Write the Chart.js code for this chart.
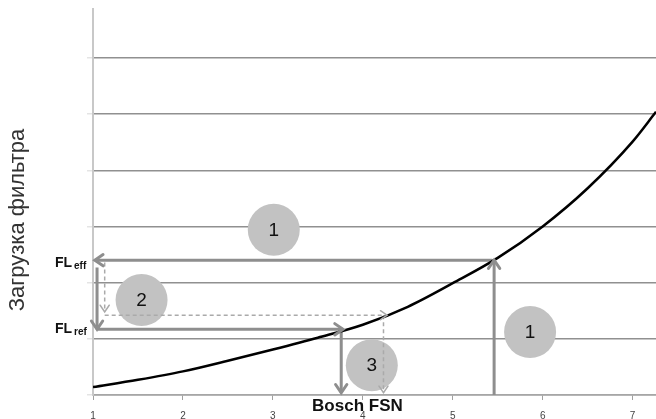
<!DOCTYPE html>
<html lang="ru">
<head>
<meta charset="UTF-8">
<title>Загрузка фильтра</title>
<script src="https://cdn.jsdelivr.net/npm/chart.js"></script>
<style>
    html, body { margin: 0; padding: 0; background: #fff; }
    canvas { display: block; }
</style>
</head>
<body>
<canvas id="chart" width="656" height="419"></canvas>
<script>
// curve (x = Bosch FSN, y = filter load)
const fsnValues  = [1, 1.5, 2, 2.5, 3, 3.5, 4, 4.5, 5, 5.5, 6, 6.5, 7, 7.26];
const loadValues = [0.14, 0.27, 0.42, 0.61, 0.81, 1.02, 1.25, 1.57, 1.99, 2.44, 3.0, 3.68, 4.51, 5.04];

const xTicks = [1, 2, 3, 4, 5, 6, 7];
const yGrid  = [0, 1, 2, 3, 4, 5, 6];

// arrows as [x1, y1, x2, y2], head at the second point
const solidArrows = [
    [5.46, 0, 5.46, 2.40],
    [5.44, 2.40, 1.02, 2.40],
    [1.045, 2.27, 1.045, 1.17],
    [1.055, 1.17, 3.78, 1.17],
    [3.76, 1.17, 3.76, 0.04]
];
const dashedArrows = [
    [1.13, 2.36, 1.13, 1.48],
    [1.13, 1.42, 4.27, 1.42],
    [4.23, 1.42, 4.23, 0.04]
];

// numbered grey circles
const stepLabels = ['1', '2', '3', '1'];
const stepX = [3.01, 1.54, 4.10, 5.86];
const stepY = [2.94, 1.69, 0.53, 1.12];

// FL labels on the left
const flSubs   = ['eff', 'ref'];
const flValues = [2.36, 1.19];

const xAxisName   = 'Bosch FSN';
const xAxisNameAt = 3.94;
const yAxisName   = 'Загрузка фильтра';

const FONT = '"Liberation Sans", Arial, sans-serif';

function toPoints(a) {
    return [{ x: a[0], y: a[1] }, { x: a[2], y: a[3] }];
}

const datasets = [];

datasets.push({
    label: 'curve',
    data: fsnValues.map((x, i) => ({ x: x, y: loadValues[i] })),
    borderColor: '#000',
    borderWidth: 2.5,
    pointRadius: 0,
    tension: 0.4,
    cubicInterpolationMode: 'monotone',
    order: 0
});

solidArrows.forEach(a => {
    datasets.push({
        data: toPoints(a),
        borderColor: '#8e8e8e',
        borderWidth: 3,
        pointRadius: 0,
        arrowHead: true,
        order: 1
    });
});

dashedArrows.forEach(a => {
    datasets.push({
        data: toPoints(a),
        borderColor: '#aaaaaa',
        borderWidth: 1.5,
        borderDash: [4, 3],
        pointRadius: 0,
        arrowHead: true,
        order: 2
    });
});

datasets.push({
    label: 'steps',
    data: stepX.map((x, i) => ({ x: x, y: stepY[i] })),
    showLine: false,
    pointRadius: 26,
    pointHoverRadius: 26,
    pointBackgroundColor: '#c2c2c2',
    pointBorderWidth: 0,
    order: 5
});

// open chevron heads on the arrows, numbers in circles, loose labels
const extrasPlugin = {
    id: 'extras',
    afterDatasetsDraw(chart) {
        const ctx = chart.ctx;
        chart.data.datasets.forEach((ds, i) => {
            const meta = chart.getDatasetMeta(i);
            if (ds.arrowHead) {
                const p0 = meta.data[0], p1 = meta.data[1];
                const ang = Math.atan2(p1.y - p0.y, p1.x - p0.x);
                const len = ds.borderWidth > 2 ? 10 : 8;
                ctx.save();
                ctx.strokeStyle = ds.borderColor;
                ctx.lineWidth = ds.borderWidth;
                ctx.lineCap = 'round';
                ctx.beginPath();
                ctx.moveTo(p1.x - len * Math.cos(ang - 0.6), p1.y - len * Math.sin(ang - 0.6));
                ctx.lineTo(p1.x, p1.y);
                ctx.lineTo(p1.x - len * Math.cos(ang + 0.6), p1.y - len * Math.sin(ang + 0.6));
                ctx.stroke();
                ctx.restore();
            }
            if (ds.label === 'steps') {
                ctx.save();
                ctx.font = '19px ' + FONT;
                ctx.fillStyle = '#111';
                ctx.textAlign = 'center';
                ctx.textBaseline = 'middle';
                meta.data.forEach((p, j) => ctx.fillText(stepLabels[j], p.x, p.y + 1));
                ctx.restore();
            }
        });
    },
    afterDraw(chart) {
        const ctx = chart.ctx;
        const area = chart.chartArea;
        const xs = chart.scales.x, ys = chart.scales.y;
        ctx.save();
        ctx.fillStyle = '#111';
        flSubs.forEach((s, i) => {
            const base = ys.getPixelForValue(flValues[i]) + 5;
            ctx.font = 'bold 14px ' + FONT;
            ctx.textAlign = 'right';
            ctx.fillText('FL', area.left - 21, base);
            ctx.font = 'bold 10px ' + FONT;
            ctx.textAlign = 'left';
            ctx.fillText(s, area.left - 19, base + 2);
        });

        ctx.font = 'bold 17px ' + FONT;
        ctx.textAlign = 'center';
        ctx.fillText(xAxisName, xs.getPixelForValue(xAxisNameAt), area.bottom + 16);

        ctx.translate(18, (area.top + area.bottom) / 2 + 18);
        ctx.rotate(-Math.PI / 2);
        ctx.font = '22px ' + FONT;
        ctx.fillStyle = '#333';
        ctx.textBaseline = 'middle';
        ctx.fillText(yAxisName, 0, 0);
        ctx.restore();
    }
};

new Chart(document.getElementById('chart'), {
    type: 'line',
    data: { datasets: datasets },
    options: {
        responsive: false,
        animation: false,
        events: [],
        layout: { autoPadding: false, padding: { top: 9, left: 0, right: 0, bottom: 0 } },
        plugins: {
            legend: { display: false },
            tooltip: { enabled: false }
        },
        scales: {
            x: {
                type: 'linear',
                min: 1,
                max: 7.26,
                afterBuildTicks: s => { s.ticks = xTicks.map(v => ({ value: v })); },
                afterFit: s => { s.height = 24; },
                grid: {
                    drawOnChartArea: false,
                    tickLength: 5,
                    tickColor: '#a0a0a0'
                },
                border: { color: '#a6a6a6', width: 1.5 },
                ticks: {
                    font: { size: 10, family: FONT },
                    color: '#444',
                    padding: 10,
                    maxRotation: 0
                }
            },
            y: {
                min: 0,
                max: 6.87,
                afterBuildTicks: s => { s.ticks = yGrid.map(v => ({ value: v })); },
                afterFit: s => { s.width = 93; },
                grid: {
                    color: '#909090',
                    lineWidth: 1.5,
                    tickLength: 6,
                    tickColor: '#e4e4e4'
                },
                border: { color: '#c8c8c8', width: 2 },
                ticks: { display: false }
            }
        }
    },
    plugins: [extrasPlugin]
});
</script>
</body>
</html>
